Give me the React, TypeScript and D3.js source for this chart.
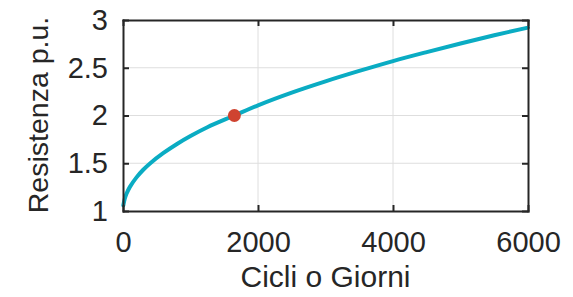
import React, { useRef, useEffect } from 'react'
import { select, scaleLinear, axisBottom, axisLeft, axisTop, axisRight, line, curveCatmullRom } from 'd3'

// curve
const cycles = [5, 25, 50, 100, 200, 300, 400, 600, 800, 1000, 1250, 1650, 2000, 2500, 3000, 3500, 4000, 4500, 5000, 5500, 6000]
const resistance = [1.06, 1.125, 1.177, 1.25, 1.352, 1.432, 1.498, 1.608, 1.702, 1.785, 1.877, 2.0, 2.107, 2.24, 2.358, 2.467, 2.57, 2.664, 2.754, 2.84, 2.92]

const markerPoint = [1650, 2]

const xTicks = [0, 2000, 4000, 6000]
const yTicks = [1, 1.5, 2, 2.5, 3]

const W = 573
const H = 297
const margin = { top: 20, right: 45, bottom: 86, left: 123 }
const FONT = '"Liberation Sans", Arial, Helvetica, sans-serif'
const INK = '#262626'

const App = () => {
    const svgRef = useRef(null)

    useEffect(() => {
        const svg = select(svgRef.current)
        svg.selectAll('*').remove()

        const innerW = W - margin.left - margin.right
        const innerH = H - margin.top - margin.bottom

        const x = scaleLinear().domain([0, 6000]).range([0, innerW])
        const y = scaleLinear().domain([1, 3]).range([innerH, 0])

        const g = svg.append('g').attr('transform', `translate(${margin.left},${margin.top})`)

        // grid
        g.selectAll('.gx').data(xTicks.slice(1, -1)).join('line')
            .attr('x1', d => x(d)).attr('x2', d => x(d))
            .attr('y1', 0).attr('y2', innerH)
            .attr('stroke', '#dedede').attr('stroke-width', 1)
        g.selectAll('.gy').data(yTicks.slice(1, -1)).join('line')
            .attr('x1', 0).attr('x2', innerW)
            .attr('y1', d => y(d)).attr('y2', d => y(d))
            .attr('stroke', '#dedede').attr('stroke-width', 1)

        const data = cycles.map((c, i) => [c, resistance[i]])
        const path = line().x(d => x(d[0])).y(d => y(d[1])).curve(curveCatmullRom.alpha(0.5))

        g.append('path')
            .datum(data)
            .attr('d', path)
            .attr('fill', 'none')
            .attr('stroke', '#0aacc3')
            .attr('stroke-width', 4)
            .attr('stroke-linecap', 'round')

        g.append('circle')
            .attr('cx', x(markerPoint[0]))
            .attr('cy', y(markerPoint[1]))
            .attr('r', 6.5)
            .attr('fill', '#cf4330')

        // axes, ticks pointing inward
        const styleAxis = (sel) => {
            sel.select('.domain').attr('stroke', INK).attr('stroke-width', 2)
            sel.selectAll('.tick line').attr('stroke', INK).attr('stroke-width', 2)
            sel.selectAll('text').attr('fill', INK).style('font-family', FONT).style('font-size', '29px')
        }

        g.append('g')
            .attr('transform', `translate(0,${innerH})`)
            .call(axisBottom(x).tickValues(xTicks).tickFormat(d => String(d)).tickSize(-6).tickSizeOuter(0).tickPadding(20))
            .call(styleAxis)

        g.append('g')
            .call(axisLeft(y).tickValues(yTicks).tickFormat(d => String(d)).tickSize(-6).tickSizeOuter(0).tickPadding(15))
            .call(styleAxis)

        g.append('g')
            .call(axisTop(x).tickValues(xTicks).tickSize(-6).tickSizeOuter(0).tickFormat(() => ''))
            .call(styleAxis)

        g.append('g')
            .attr('transform', `translate(${innerW},0)`)
            .call(axisRight(y).tickValues(yTicks).tickSize(-6).tickSizeOuter(0).tickFormat(() => ''))
            .call(styleAxis)

        svg.selectAll('.domain').attr('stroke-linecap', 'square')

        // labels
        svg.append('text')
            .attr('x', margin.left + innerW / 2)
            .attr('y', 287)
            .attr('text-anchor', 'middle')
            .attr('fill', INK)
            .style('font-family', FONT)
            .style('font-size', '30px')
            .text('Cicli o Giorni')

        svg.append('text')
            .attr('transform', `translate(48,115) rotate(-90)`)
            .attr('text-anchor', 'middle')
            .attr('fill', INK)
            .style('font-family', FONT)
            .style('font-size', '28.5px')
            .text('Resistenza p.u.')
    }, [])

    return (
        <svg ref={svgRef} width={W} height={H}
            style={{ position: 'absolute', left: 0, top: 0, background: 'white' }} />
    )
}

export default App
